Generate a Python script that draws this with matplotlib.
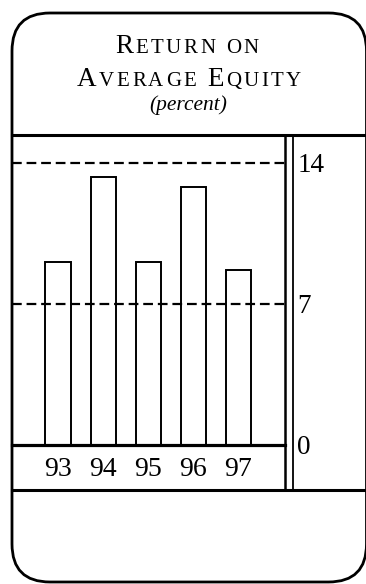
import matplotlib
matplotlib.use("Agg")
import matplotlib.pyplot as plt
from matplotlib.lines import Line2D
from matplotlib.patches import FancyBboxPatch

# ---- data ----
years = ["93", "94", "95", "96", "97"]
roe = [9.1, 13.3, 9.1, 12.8, 8.7]
yticks = [0, 7, 14]
ytick_labels = ["0", "7", "14"]
title_line1 = "Return on"
title_line2 = "Average Equity"
subtitle = "(percent)"

W, H = 366, 584
SERIF = "Liberation Serif"
plt.rcParams["lines.scale_dashes"] = False

fig = plt.figure(figsize=(W / 100, H / 100), dpi=100)
fig.patch.set_facecolor("white")


def fx(px):
    return px / W


def fy(py):
    return 1 - py / H


# outer rounded card
card = FancyBboxPatch((12, H - 582), 354.5, 569,
                      boxstyle="round,pad=0,rounding_size=38",
                      transform=None, facecolor="none", edgecolor="black",
                      linewidth=2.0, zorder=-1)
fig.patches.append(card)

# plot axes
top_px, base_px = 135, 445
ax = fig.add_axes([fx(12), fy(base_px), fx(285) - fx(12), fy(top_px) - fy(base_px)])
ax.set_facecolor("none")
ppu = 20.15
ax.set_ylim(0, (base_px - top_px) / ppu)
spacing = 45.0
ax.set_xlim(-46 / spacing, -46 / spacing + 273 / spacing)
for s in ax.spines.values():
    s.set_visible(False)

x = list(range(len(years)))
ax.bar(x, roe, width=25 / spacing, color="white", edgecolor="black",
       linewidth=1.4, zorder=2)
for v in yticks[1:]:
    ax.axhline(v, color="black", linewidth=1.6, dashes=(7, 3.5), zorder=3)
ax.axhline(0, color="black", linewidth=2.3, zorder=4, clip_on=False)

ax.set_xticks(x, years)
ax.tick_params(axis="x", length=0, pad=9.0)
for lab in ax.get_xticklabels():
    lab.set_fontfamily(SERIF)
    lab.set_fontsize(20)

ax.yaxis.tick_right()
ax.set_yticks(yticks, ytick_labels)
ax.tick_params(axis="y", length=0, pad=9.0)
for lab in ax.get_yticklabels():
    lab.set_fontfamily(SERIF)
    lab.set_fontsize(19.5)

# structural lines
def hline(y, x0, x1, lw):
    fig.lines.append(Line2D([fx(x0), fx(x1)], [fy(y), fy(y)], transform=fig.transFigure,
                            color="black", linewidth=lw))


def vline(xp, y0, y1, lw):
    fig.lines.append(Line2D([fx(xp), fx(xp)], [fy(y0), fy(y1)], transform=fig.transFigure,
                            color="black", linewidth=lw))


hline(135, 12, 366, 2.2)
hline(490, 12, 366, 2.2)
vline(285, 135, 490, 1.8)
vline(293, 135, 490, 1.3)

# small-caps title
fig.canvas.draw()
renderer = fig.canvas.get_renderer()


def small_caps(text, cx, baseline, big, small, track):
    pieces = []
    prev_space = True
    for ch in text:
        if ch == " ":
            pieces.append((" ", None))
            prev_space = True
            continue
        if ch.isupper() and prev_space:
            pieces.append((ch, big))
        else:
            pieces.append((ch.upper(), small))
        prev_space = False
    widths = []
    for ch, sz in pieces:
        if sz is None:
            widths.append(small * 100 / 72 * 0.3)
        else:
            t = fig.text(0, 0, ch, fontsize=sz, family=SERIF)
            widths.append(t.get_window_extent(renderer).width)
            t.remove()
    total = sum(widths) + track * (len(pieces) - 1)
    xcur = cx - total / 2
    for (ch, sz), w in zip(pieces, widths):
        if sz is not None:
            fig.text(fx(xcur), fy(baseline), ch, fontsize=sz, family=SERIF,
                     ha="left", va="baseline")
        xcur += w + track


small_caps(title_line1, 187, 53, 19.5, 15, 2.4)
small_caps(title_line2, 189, 86, 19.5, 15, 2.4)
fig.text(fx(188), fy(110), subtitle, fontsize=15.5, family=SERIF, style="italic",
         ha="center", va="baseline")

fig.savefig("out.png", dpi=100, facecolor="white")
